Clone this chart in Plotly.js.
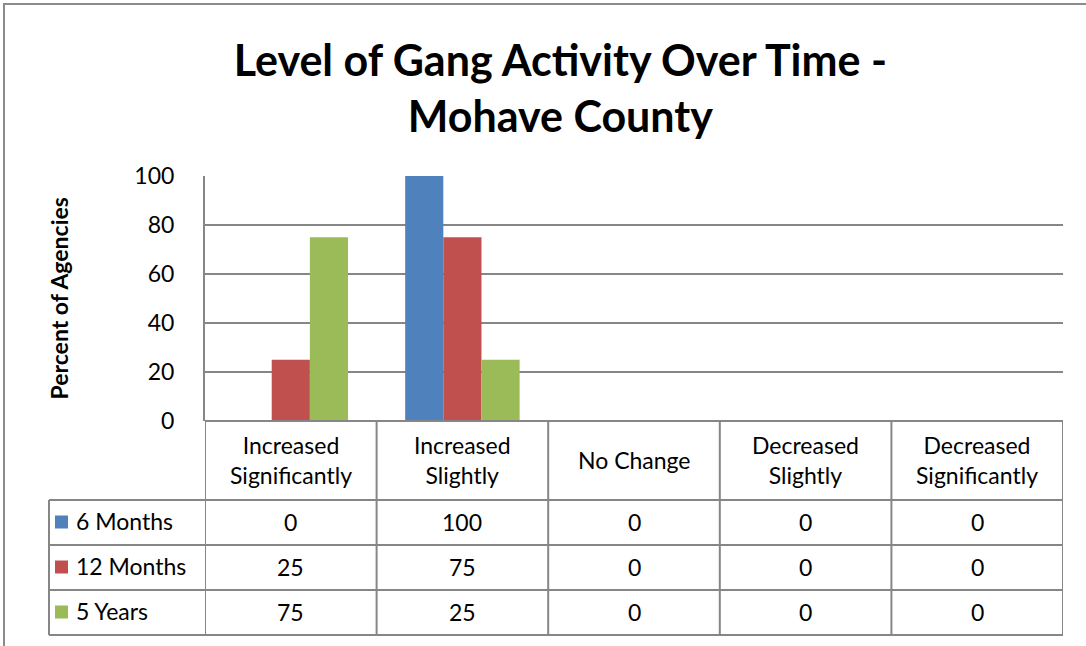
<!DOCTYPE html>
<html>
<head>
<meta charset="utf-8">
<script src="https://cdn.plot.ly/plotly-3.0.1.min.js"></script>
<style>
  html, body { margin: 0; padding: 0; background: #fff; }
  #chart { width: 1086px; height: 646px; }
</style>
</head>
<body>
<div id="chart"></div>
<script>
// data
const categories = ['Increased Significantly', 'Increased Slightly', 'No Change', 'Decreased Slightly', 'Decreased Significantly'];
const categoryLabels = ['Increased<br>Significantly', 'Increased<br>Slightly', 'No Change', 'Decreased<br>Slightly', 'Decreased<br>Significantly'];
const seriesNames = ['6 Months', '12 Months', '5 Years'];
const sixMonths = [0, 100, 0, 0, 0];
const twelveMonths = [25, 75, 0, 0, 0];
const fiveYears = [75, 25, 0, 0, 0];
const yTicks = [0, 20, 40, 60, 80, 100];

const W = 1086, H = 646;
const FONT = 'Lato, "Open Sans", sans-serif';
const FS = 23;
const GRID = '#868686';
const colors = ['#4F81BD', '#C0504D', '#9BBB59'];
const seriesValues = [sixMonths, twelveMonths, fiveYears];

// pixel helpers (margins are zero, so paper == page)
const px = x => x / W;
const py = y => 1 - y / H;

const plotLeft = 205, plotRight = 1063, plotTop = 176, plotBottom = 421;
const tableLeft = 49;
const rowLines = [500, 545, 590, 635];

const traces = seriesValues.map((vals, i) => ({
  x: categories, y: vals,
  type: 'bar', name: seriesNames[i],
  marker: { color: colors[i] },
  hoverinfo: 'skip',
}));

const shapes = [];
const line = (x0, y0, x1, y1, xref) => shapes.push({
  type: 'line', xref: xref || 'paper', yref: 'paper',
  x0, y0, x1, y1, line: { color: GRID, width: 2 },
});

// outer chart frame
shapes.push({ type: 'rect', xref: 'paper', yref: 'paper',
  x0: px(4), x1: px(1090), y0: py(660), y1: py(4),
  line: { color: '#8c8c8c', width: 2 } });

// table horizontal lines
line(px(plotLeft), py(plotBottom), px(plotRight), py(plotBottom));
rowLines.forEach(y => line(px(tableLeft), py(y), px(plotRight), py(y)));
// table vertical lines on category boundaries
for (let i = 0; i <= categories.length; i++) {
  line(i - 0.5, py(plotBottom), i - 0.5, py(rowLines[rowLines.length - 1]), 'x');
}
line(px(tableLeft), py(rowLines[0]), px(tableLeft), py(rowLines[rowLines.length - 1]));

const textFont = { family: FONT, size: FS, color: '#000' };
const annotations = [];
// header row
categoryLabels.forEach((lab, i) => annotations.push({
  x: categories[i], xref: 'x', y: py((plotBottom + rowLines[0]) / 2 - 1), yref: 'paper',
  xanchor: 'center', yanchor: 'middle',
  text: lab, showarrow: false, align: 'center', font: textFont,
}));
// value rows and legend keys
seriesValues.forEach((vals, r) => {
  const yc = (rowLines[r] + rowLines[r + 1]) / 2;
  vals.forEach((v, i) => annotations.push({
    x: categories[i], xref: 'x', y: py(yc - 1), yref: 'paper',
    xanchor: 'center', yanchor: 'middle',
    text: String(v), showarrow: false, font: textFont,
  }));
  annotations.push({
    x: px(74), xref: 'paper', y: py(yc - 2), yref: 'paper',
    xanchor: 'left', yanchor: 'middle',
    text: seriesNames[r], showarrow: false, font: textFont,
  });
  shapes.push({ type: 'rect', xref: 'paper', yref: 'paper',
    x0: px(55), x1: px(68), y0: py(yc + 6), y1: py(yc - 7),
    fillcolor: colors[r], line: { width: 0 } });
});
// y axis title
annotations.push({
  x: px(58), y: py((plotTop + plotBottom) / 2), xref: 'paper', yref: 'paper',
  xanchor: 'center', yanchor: 'middle',
  text: '<b>Percent of Agencies</b>', textangle: -90, showarrow: false,
  font: { family: FONT, size: 23, color: '#000' },
});

const layout = {
  width: W, height: H,
  margin: { l: 0, r: 0, t: 0, b: 0 },
  paper_bgcolor: '#fff', plot_bgcolor: '#fff',
  showlegend: false,
  barmode: 'group', bargap: 0.333, bargroupgap: 0,
  title: {
    text: '<b>Level of Gang Activity Over Time -<br>Mohave County</b>',
    x: 0.516, xanchor: 'center', y: 1 - 76 / H, yanchor: 'middle', yref: 'container',
    font: { family: FONT, size: 43, color: '#000' },
  },
  xaxis: {
    domain: [px(plotLeft), px(plotRight)],
    range: [-0.5, categories.length - 0.5],
    showticklabels: false, showgrid: false, zeroline: false, showline: false,
    fixedrange: true,
  },
  yaxis: {
    domain: [py(plotBottom), py(plotTop)],
    range: [0, 100], tickvals: yTicks,
    showgrid: true, gridcolor: GRID, gridwidth: 2,
    zeroline: false, showline: true, linecolor: GRID, linewidth: 2,
    ticks: '', ticklabelstandoff: 24,
    tickfont: textFont,
    fixedrange: true,
  },
  shapes, annotations,
};

Plotly.newPlot('chart', traces, layout, { displayModeBar: false, staticPlot: true });
</script>
</body>
</html>
